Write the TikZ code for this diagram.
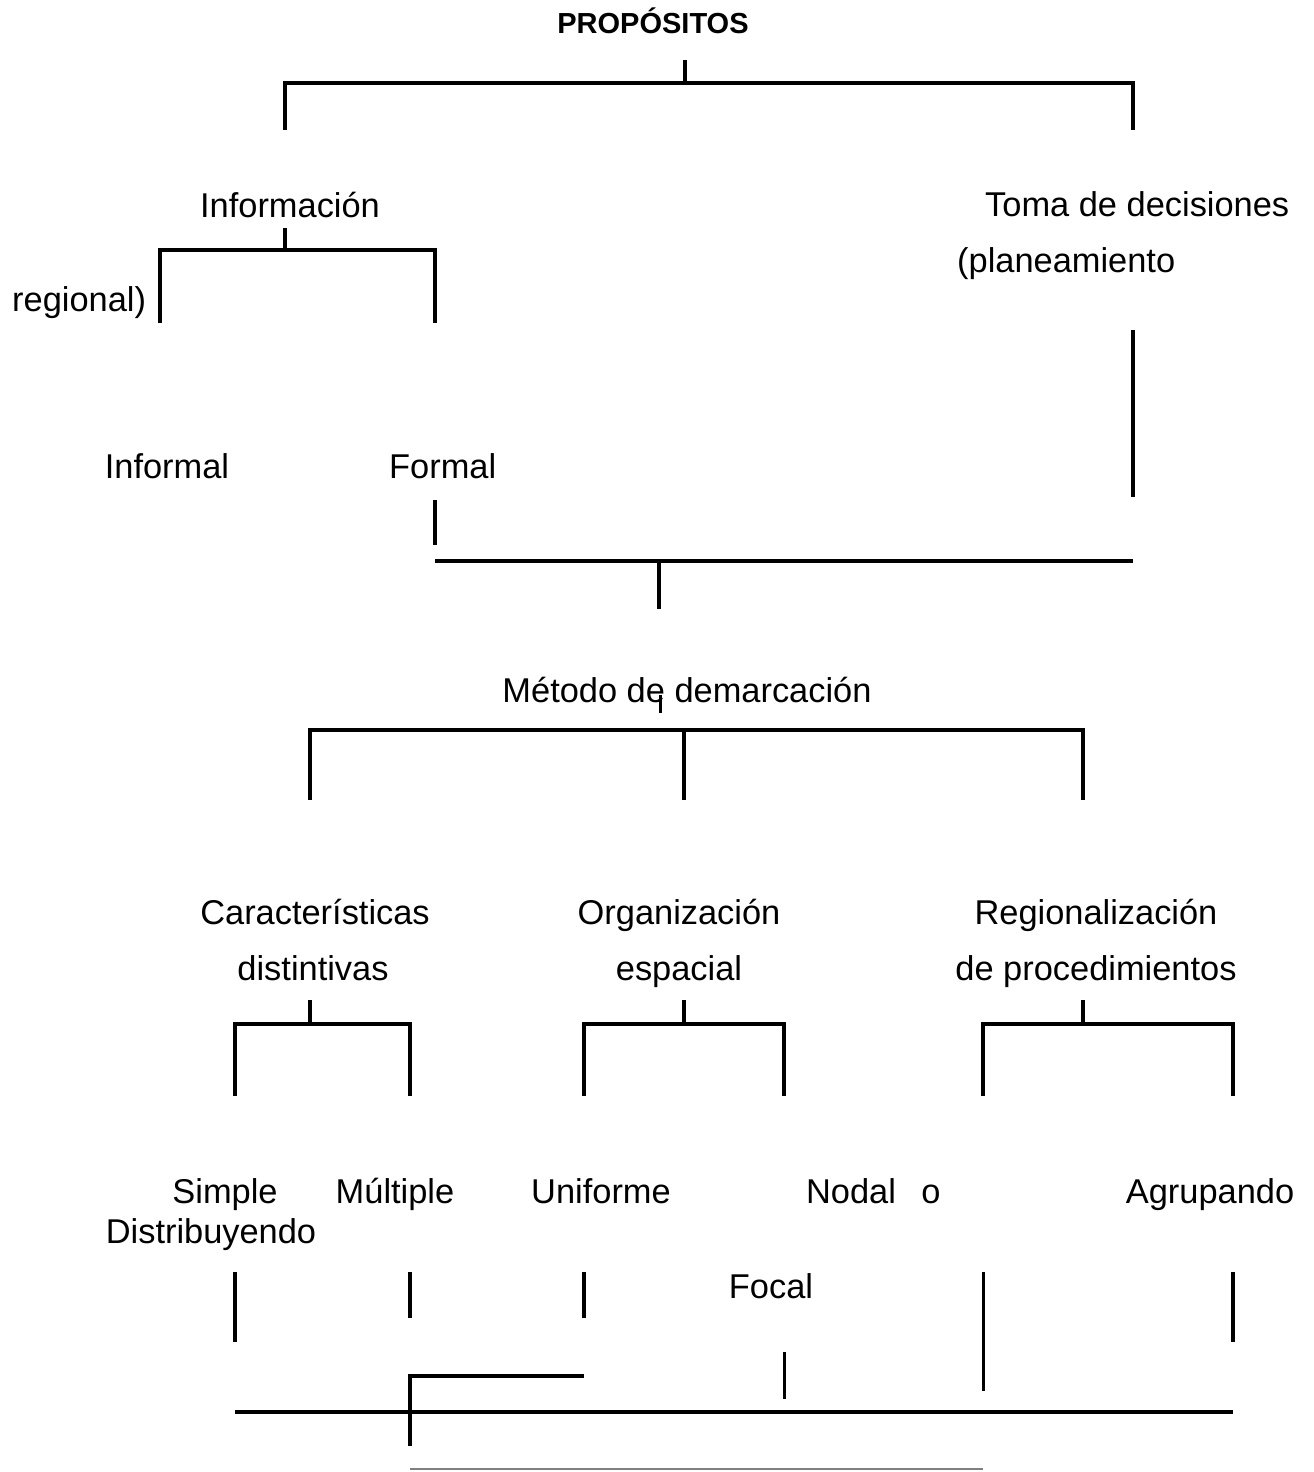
\documentclass[tikz,border=0pt]{standalone}
\usepackage{fontspec}
\setmainfont{Liberation Sans}
\begin{document}
\begin{tikzpicture}[x=1pt,y=-1pt,
  lbl/.style={inner sep=0pt,anchor=base,font=\fontsize{34.4}{40}\selectfont},
  lblw/.style={lbl,anchor=base west},
  ln/.style={line width=3.9pt,black},
  lnt/.style={line width=3pt,black}]
\useasboundingbox[fill=white] (0,0) rectangle (1314,1472);
% texts
\node[lbl,font=\fontsize{29}{34}\selectfont\bfseries] (prop) at (653,34) {PROPÓSITOS};
\node[lbl] (info) at (290,217) {Información};
\node[lblw] (toma) at (985,216) {Toma de decisiones};
\node[lblw] (plan) at (957,272) {(planeamiento};
\node[lblw] (reg) at (12,311) {regional)};
\node[lbl] (infl) at (167,478) {Informal};
\node[lblw] (form) at (389,478) {Formal};
\node[lbl] (met) at (687,702) {Método de demarcación};
\node[lbl] (car) at (315,924) {Características};
\node[lbl] (dis) at (313,980) {distintivas};
\node[lbl] (org) at (679,924) {Organización};
\node[lbl] (esp) at (679,980) {espacial};
\node[lbl] (regn) at (1096,924) {Regionalización};
\node[lbl] (proc) at (1096,980) {de procedimientos};
\node[lbl] (simp) at (225,1203) {Simple};
\node[lbl] (mult) at (395,1203) {Múltiple};
\node[lbl] (unif) at (601,1203) {Uniforme};
\node[lbl] (nod) at (851,1203) {Nodal};
\node[lbl] (o) at (931,1203) {o};
\node[lbl] (agr) at (1210,1203) {Agrupando};
\node[lbl] (distr) at (211,1243) {Distribuyendo};
\node[lbl] (foc) at (771,1298) {Focal};
% top bracket
\draw[ln] (685,60) -- (685,83);
\draw[ln] (285,130) -- (285,83) -- (1133,83) -- (1133,130);
% informacion bracket
\draw[ln] (285,228) -- (285,250);
\draw[ln] (160,323) -- (160,250) -- (435,250) -- (435,323);
% right vertical
\draw[ln] (1133,330) -- (1133,497);
% formal join
\draw[ln] (435,500) -- (435,545);
\draw[ln] (435,561) -- (1133,561);
\draw[ln] (659,561) -- (659,609);
% metodo
\draw[lnt] (660,695) -- (660,713);
\draw[ln] (310,800) -- (310,730) -- (1083,730) -- (1083,800);
\draw[ln] (684,730) -- (684,800);
% sub brackets
\draw[ln] (310,1000) -- (310,1024);
\draw[ln] (235,1096) -- (235,1024) -- (410,1024) -- (410,1096);
\draw[ln] (684,1000) -- (684,1024);
\draw[ln] (584,1096) -- (584,1024) -- (784,1024) -- (784,1096);
\draw[ln] (1083,1000) -- (1083,1024);
\draw[ln] (983,1096) -- (983,1024) -- (1233,1024) -- (1233,1096);
% lower verticals
\draw[ln] (235,1272) -- (235,1342);
\draw[ln] (410,1272) -- (410,1318);
\draw[ln] (584,1272) -- (584,1318);
\draw[lnt] (983,1272) -- (983,1391);
\draw[ln] (1233,1272) -- (1233,1342);
\draw[lnt] (784,1352) -- (784,1399);
% bottom
\draw[ln] (410,1446) -- (410,1376) -- (584,1376);
\draw[line width=4.6pt] (235,1412) -- (1233,1412);
\draw[line width=1.6pt,gray] (410,1469) -- (983,1469);
\end{tikzpicture}
\end{document}
